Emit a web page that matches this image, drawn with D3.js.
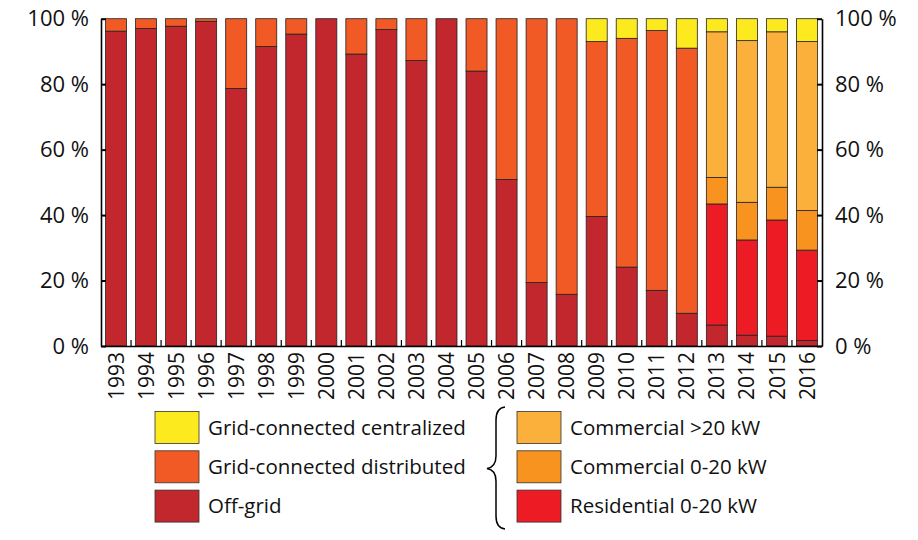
<!DOCTYPE html>
<html>
<head>
<meta charset="utf-8">
<script src="https://cdn.jsdelivr.net/npm/d3@7"></script>
<style>
  body { margin: 0; background: #fff; }
  svg text { font-family: "Open Sans", sans-serif; fill: #111; }
</style>
</head>
<body>
<div id="chart"></div>
<script>
// Share of installed capacity per year (%)
var years = ["1993", "1994", "1995", "1996", "1997", "1998", "1999", "2000",
             "2001", "2002", "2003", "2004", "2005", "2006", "2007", "2008",
             "2009", "2010", "2011", "2012", "2013", "2014", "2015", "2016"];

var offGrid         = [96.2, 97.0, 97.7, 99.2, 78.7, 91.5, 95.3, 100, 89.2, 96.7, 87.2, 100,
                       84.0, 50.9, 19.4, 15.8, 39.6, 24.1, 17.0, 10.0, 6.4, 3.3, 3.0, 1.7];
var gridDistributed = [3.8, 3.0, 2.3, 0.8, 21.3, 8.5, 4.7, 0, 10.8, 3.3, 12.8, 0,
                       16.0, 49.1, 80.6, 84.2, 53.4, 69.9, 79.4, 81.0, 0, 0, 0, 0];
var residential     = [0, 0, 0, 0, 0, 0, 0, 0, 0, 0, 0, 0,
                       0, 0, 0, 0, 0, 0, 0, 0, 37.0, 29.1, 35.5, 27.6];
var commercialSmall = [0, 0, 0, 0, 0, 0, 0, 0, 0, 0, 0, 0,
                       0, 0, 0, 0, 0, 0, 0, 0, 8.1, 11.5, 10.0, 12.1];
var commercialLarge = [0, 0, 0, 0, 0, 0, 0, 0, 0, 0, 0, 0,
                       0, 0, 0, 0, 0, 0, 0, 0, 44.5, 49.4, 47.5, 51.6];
var gridCentralized = [0, 0, 0, 0, 0, 0, 0, 0, 0, 0, 0, 0,
                       0, 0, 0, 0, 7.0, 6.0, 3.6, 9.0, 4.0, 6.7, 4.0, 7.0];

var yTicks = [0, 20, 40, 60, 80, 100];

// stacking order, bottom to top
var keys = ["offGrid", "residential", "commercialSmall", "commercialLarge", "gridDistributed", "gridCentralized"];
var labels = {
  gridCentralized: "Grid-connected centralized",
  gridDistributed: "Grid-connected distributed",
  offGrid: "Off-grid",
  commercialLarge: "Commercial >20 kW",
  commercialSmall: "Commercial 0-20 kW",
  residential: "Residential 0-20 kW"
};
var colors = {
  gridCentralized: "#fcea1e",
  gridDistributed: "#f15a24",
  offGrid: "#c1272d",
  commercialLarge: "#fbb03b",
  commercialSmall: "#f7931e",
  residential: "#ed1c24"
};

var rows = years.map(function(y, i) {
  return {
    year: y,
    offGrid: offGrid[i],
    residential: residential[i],
    commercialSmall: commercialSmall[i],
    commercialLarge: commercialLarge[i],
    gridDistributed: gridDistributed[i],
    gridCentralized: gridCentralized[i]
  };
});

var W = 918, H = 540;
var plotLeft = 101, plotRight = 822, plotTop = 18.7, plotBottom = 346;

var svg = d3.select("#chart")
  .append("svg")
  .attr("width", W)
  .attr("height", H);

var x = d3.scaleBand()
  .domain(years)
  .range([plotLeft, plotRight])
  .paddingInner(0.3)
  .paddingOuter(0.15);

var y = d3.scaleLinear()
  .domain([0, 100])
  .range([plotBottom, plotTop]);

// Bars
var stacked = d3.stack().keys(keys)(rows);

svg.append("g")
  .selectAll("g")
  .data(stacked)
  .join("g")
    .attr("fill", d => colors[d.key])
  .selectAll("rect")
  .data(d => d.filter(s => s[1] - s[0] > 0))
  .join("rect")
    .attr("x", d => x(d.data.year))
    .attr("width", x.bandwidth())
    .attr("y", d => y(d[1]))
    .attr("height", d => y(d[0]) - y(d[1]))
    .attr("stroke", "#222")
    .attr("stroke-width", 0.8);

// Left axis
svg.append("g")
  .attr("transform", `translate(${plotLeft},0)`)
  .call(d3.axisLeft(y)
    .tickValues(yTicks)
    .tickSizeInner(-5)
    .tickSizeOuter(0)
    .tickPadding(12)
    .tickFormat(d => d + " %"))
  .call(g => g.select(".domain").attr("stroke", "#000").attr("stroke-width", 1.6))
  .call(g => g.selectAll(".tick line").attr("stroke", "#000").attr("stroke-width", 2))
  .call(g => g.selectAll(".tick text")
      .style("font-family", "'Open Sans', sans-serif")
      .style("font-size", "22px")
      .attr("fill", "#111"));

// Right axis
svg.append("g")
  .attr("transform", `translate(${plotRight},0)`)
  .call(d3.axisRight(y)
    .tickValues(yTicks)
    .tickSizeInner(-5)
    .tickSizeOuter(0)
    .tickPadding(13)
    .tickFormat(d => d + " %"))
  .call(g => g.select(".domain").attr("stroke", "#000").attr("stroke-width", 1.6))
  .call(g => g.selectAll(".tick line").attr("stroke", "#000").attr("stroke-width", 2))
  .call(g => g.selectAll(".tick text")
      .style("font-family", "'Open Sans', sans-serif")
      .style("font-size", "22px")
      .attr("fill", "#111"));

// Bottom axis: year labels plus small separators between bars
svg.append("g")
  .attr("transform", `translate(0,${plotBottom})`)
  .call(d3.axisBottom(x).tickSize(0).tickPadding(0))
  .call(g => g.select(".domain").attr("stroke", "#000").attr("stroke-width", 1.4))
  .call(g => g.selectAll(".tick text")
      .attr("transform", "rotate(-90)")
      .attr("x", -6)
      .attr("y", 0)
      .attr("dy", "0.36em")
      .attr("text-anchor", "end")
      .style("font-family", "'Open Sans', sans-serif")
      .style("font-size", "21px")
      .attr("fill", "#111"));

svg.append("g")
  .selectAll("line")
  .data(years.slice(1))
  .join("line")
    .attr("x1", d => x(d) - x.step() * x.paddingInner() / 2)
    .attr("x2", d => x(d) - x.step() * x.paddingInner() / 2)
    .attr("y1", plotBottom)
    .attr("y2", plotBottom - 6)
    .attr("stroke", "#000")
    .attr("stroke-width", 1.2);

// Legend
var legendCols = [
  {x: 155, keys: ["gridCentralized", "gridDistributed", "offGrid"]},
  {x: 517, keys: ["commercialLarge", "commercialSmall", "residential"]}
];
var rowTop = 411.5, rowStep = 39.3, swW = 44, swH = 32;

legendCols.forEach(function(col) {
  var lg = svg.append("g").selectAll("g")
    .data(col.keys)
    .join("g")
      .attr("transform", (d, i) => `translate(${col.x},${rowTop + i * rowStep})`);
  lg.append("rect")
    .attr("width", swW)
    .attr("height", swH)
    .attr("fill", d => colors[d])
    .attr("stroke", "#333")
    .attr("stroke-width", 0.8);
  lg.append("text")
    .attr("x", swW + 9)
    .attr("y", swH / 2)
    .attr("dy", "0.36em")
    .style("font-size", "20.5px")
    .text(d => labels[d]);
});

// Curly brace grouping the distributed sub-categories
svg.append("path")
  .attr("d", "M505,407 Q496,408 496,420 L496,456 Q496,467 487,468.5 Q496,470 496,481 L496,516 Q496,528 505,529")
  .attr("fill", "none")
  .attr("stroke", "#000")
  .attr("stroke-width", 1.5);
</script>
</body>
</html>
